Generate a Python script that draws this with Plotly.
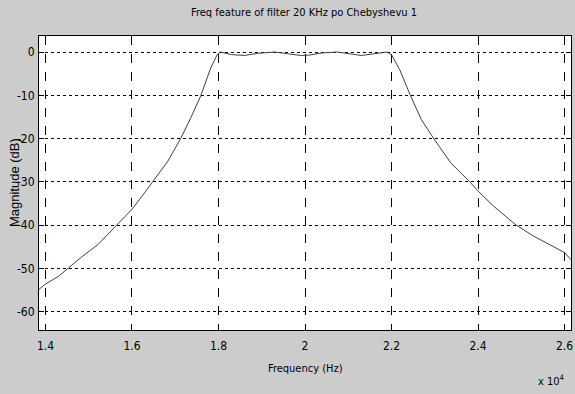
import plotly.graph_objects as go

freq_hz = [13850, 14000, 14300, 14530, 14840, 15220, 15680, 16000, 16240, 16480,
           16830, 17130, 17360, 17590, 17820, 17970, 18040, 18300, 18600, 18900,
           19300, 19600, 19900, 20100, 20400, 20750, 21000, 21300, 21600, 21900,
           22000, 22190, 22440, 22690, 22970, 23370, 23810, 24020, 24360, 24860,
           25280, 26000, 26150]
mag_db = [-54.8, -53.6, -51.8, -49.8, -47.3, -44.4, -39.6, -36.3, -33.2, -30.0,
          -25.2, -19.9, -15.2, -10.1, -3.7, -0.6, 0.0, -0.6, -0.8, -0.3,
          0.0, -0.4, -0.8, -0.7, -0.2, 0.0, -0.4, -0.8, -0.4, 0.0,
          -0.6, -4.1, -10.1, -15.6, -19.9, -25.6, -30.0, -32.3, -35.6, -39.8,
          -42.5, -46.3, -48.0]

x_tick_vals = [14000, 16000, 18000, 20000, 22000, 24000, 26000]
x_tick_text = ["1.4", "1.6", "1.8", "2", "2.2", "2.4", "2.6"]
y_tick_vals = [0, -10, -20, -30, -40, -50, -60]
y_tick_text = ["0", "-10", "-20", "-30", "-40", "-50", "-60"]

title_text = "Freq feature of filter 20 KHz po Chebyshevu 1"
x_label = "Frequency (Hz)"
y_label = "Magnitude (dB)"
exp_label = "x 10<sup>4</sup>"

narrow = "DejaVu Sans Condensed, Liberation Sans Narrow, sans-serif"

fig = go.Figure()
fig.add_trace(go.Scatter(x=freq_hz, y=mag_db, mode="lines",
                         line=dict(color="#404040", width=1), showlegend=False,
                         hoverinfo="skip"))

fig.update_layout(
    width=575, height=394,
    paper_bgcolor="#cccccc", plot_bgcolor="white",
    margin=dict(l=39, r=2, t=36, b=64),
    title=dict(text=title_text, x=304 / 575, xanchor="center",
               y=1 - 12 / 394, yanchor="middle",
               font=dict(family=narrow, size=11, color="black")),
    xaxis=dict(range=[13850, 26150], tickvals=x_tick_vals, ticktext=x_tick_text,
               ticks="inside", ticklen=5, tickcolor="black", mirror="ticks",
               showline=True, linecolor="black", linewidth=1,
               showgrid=True, gridcolor="black", griddash="dash", gridwidth=1,
               zeroline=False, ticklabeloverflow="allow", ticklabelstandoff=5,
               tickfont=dict(family=narrow, size=12, color="black")),
    yaxis=dict(range=[-64.2, 3.7], tickvals=y_tick_vals, ticktext=y_tick_text,
               ticks="inside", ticklen=5, tickcolor="black", mirror="ticks",
               showline=True, linecolor="black", linewidth=1,
               showgrid=True, gridcolor="black", griddash="dot", gridwidth=1,
               zeroline=False, ticklabelstandoff=1,
               tickfont=dict(family=narrow, size=12, color="black")),
    annotations=[
        dict(text=y_label, textangle=-90, x=(14 - 39) / 534, xref="paper",
             xanchor="center", y=0.5, yref="paper", yanchor="middle",
             showarrow=False,
             font=dict(family="Liberation Sans, Arial", size=13, color="black")),
        dict(text=x_label, x=(306 - 39) / 534, xref="paper", xanchor="center",
             y=-(368 - 330) / 294, yref="paper", yanchor="middle",
             showarrow=False,
             font=dict(family=narrow, size=11, color="black")),
        dict(text=exp_label, x=(569 - 39) / 534, xref="paper", xanchor="right",
             y=-(380 - 330) / 294, yref="paper", yanchor="middle",
             showarrow=False,
             font=dict(family=narrow, size=11, color="black")),
    ],
)

fig.write_html("out.html", post_script="document.body.style.margin='0';",
               config={"displayModeBar": False})
